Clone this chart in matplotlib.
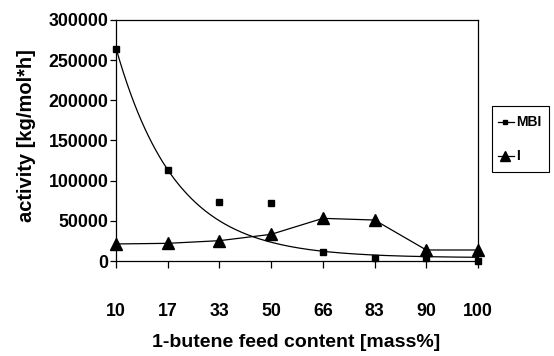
import numpy as np
import matplotlib
matplotlib.use("Agg")
import matplotlib.pyplot as plt
from matplotlib.lines import Line2D
from matplotlib.patches import Rectangle

plt.rcParams['font.family'] = ['Liberation Sans', 'DejaVu Sans']
plt.rcParams['font.weight'] = 'bold'

# 1-butene feed content [mass%] (categorical axis)
feed_content = ["10", "17", "33", "50", "66", "83", "90", "100"]

# catalyst activity [kg/mol*h]
mbi_activity = [264500, 113300, 73000, 72600, 11600, 4100, 3300, 500]
i_activity = [21200, 22000, 25300, 33200, 53100, 51000, 13700, 13700]

# exponential trend line for MBI: amplitude * decay**index + offset
mbi_trend_amplitude = 261000
mbi_trend_decay = 0.42
mbi_trend_offset = 4000

y_ticks = [0, 50000, 100000, 150000, 200000, 250000, 300000]
series_names = ["MBI", "I"]

W, H = 554, 356
fig = plt.figure(figsize=(W / 100, H / 100), dpi=100)
ax = fig.add_axes([116 / W, 1 - 261 / H, (478 - 116) / W, (261 - 20) / H])

x = np.arange(len(feed_content))

xs = np.linspace(0, len(feed_content) - 1, 300)
trend = mbi_trend_amplitude * mbi_trend_decay ** xs + mbi_trend_offset
ax.plot(xs, trend, color='black', lw=0.9, zorder=2)
ax.plot(x, mbi_activity, ls='none', marker='s', ms=3.8, color='black',
        zorder=3, clip_on=False)

ax.plot(x, i_activity, color='black', lw=0.9, marker='^', ms=8.8,
        zorder=3, clip_on=False)

ax.set_xlim(0, len(feed_content) - 1)
ax.set_ylim(0, 300000)
ax.set_xticks(x)
ax.set_xticklabels(feed_content)
ax.set_yticks(y_ticks)
ax.set_yticklabels([str(v) for v in y_ticks])

ax.tick_params(axis='x', direction='out', length=5, width=0.9, pad=25,
               labelsize=12.8)
ax.tick_params(axis='y', direction='out', length=4, width=0.9, pad=1.5,
               labelsize=12.8)
for s in ax.spines.values():
    s.set_linewidth(0.9)
    s.set_color('black')

# axis titles
fig.text(296 / W, 1 - 347 / H, "1-butene feed content [mass%]",
         fontsize=14, fontweight='bold', ha='center', va='baseline')
fig.text(27 / W, 1 - 136 / H, "activity [kg/mol*h]", rotation=90,
         fontsize=14.5, fontweight='bold', ha='center', va='center')

# legend box
tf = fig.transFigure
fig.add_artist(Rectangle((492 / W, 1 - 172 / H), 57 / W, 66 / H,
                         transform=tf, fill=False, ec='black', lw=0.8))
legend_rows = [(122, 's', 3.2), (156, '^', 7.5)]
for (row_y, mk, msz), name in zip(legend_rows, series_names):
    yy = 1 - row_y / H
    fig.add_artist(Line2D([498 / W, 514 / W], [yy, yy], transform=tf,
                          color='black', lw=0.9))
    fig.add_artist(Line2D([505 / W], [yy], transform=tf, ls='none',
                          marker=mk, ms=msz, color='black'))
    fig.text(516 / W, yy, name, fontsize=10, fontweight='bold',
             ha='left', va='center')

fig.savefig("out.png", dpi=100)
